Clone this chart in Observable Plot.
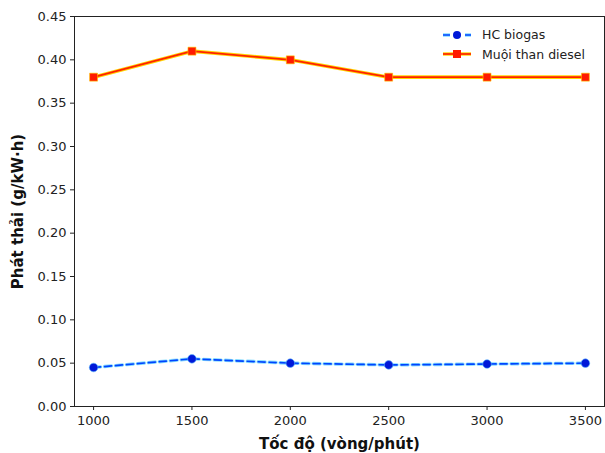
<!DOCTYPE html>
<html>
<head>
<meta charset="utf-8">
<script src="https://cdn.jsdelivr.net/npm/d3@7"></script>
<script src="https://cdn.jsdelivr.net/npm/@observablehq/plot@0.6"></script>
<style>
  html, body { margin: 0; padding: 0; background: #fff; }
  #wrap { position: relative; width: 605px; height: 453px; font-family: "DejaVu Sans", sans-serif; }
  #legend { position: absolute; left: 441px; top: 25px; font-size: 12.5px; color: #222; }
  #legend .row { display: flex; align-items: center; height: 19.5px; }
  #legend svg { margin-right: 9px; }
</style>
</head>
<body>
<div id="wrap">
  <div id="chart"></div>
  <div id="legend"></div>
</div>
<script>
// Engine speed (rpm)
const speeds = [1000, 1500, 2000, 2500, 3000, 3500];
// Emissions, g/kW·h
const hcBiogas = [0.045, 0.055, 0.050, 0.048, 0.049, 0.050];
const sootDiesel = [0.38, 0.41, 0.40, 0.38, 0.38, 0.38];
const seriesNames = ["HC biogas", "Muội than diesel"];
const yTicks = [0, 0.05, 0.10, 0.15, 0.20, 0.25, 0.30, 0.35, 0.40, 0.45];
const xTicks = [1000, 1500, 2000, 2500, 3000, 3500];

const hc = speeds.map((s, i) => ({speed: s, value: hcBiogas[i]}));
const soot = speeds.map((s, i) => ({speed: s, value: sootDiesel[i]}));

const chart = Plot.plot({
  width: 605,
  height: 453,
  marginLeft: 74,
  marginRight: 1,
  marginTop: 16,
  marginBottom: 47,
  style: {fontFamily: "DejaVu Sans, sans-serif", fontSize: "13px", color: "#222", background: "#fff"},
  x: {domain: [903, 3597], ticks: xTicks, tickFormat: d => String(d), tickSize: 4, tickPadding: 5,
      label: "Tốc độ (vòng/phút)", labelAnchor: "center", labelArrow: "none", labelOffset: 42},
  y: {domain: [0, 0.45], ticks: yTicks, tickFormat: d3.format(".2f"), tickSize: 4, tickPadding: 4,
      label: "Phát thải (g/kW·h)", labelAnchor: "center", labelArrow: "none", labelOffset: 62},
  marks: [
    Plot.frame({stroke: "#222", strokeWidth: 1}),
    // soft halos under the lines
    Plot.line(soot, {x: "speed", y: "value", stroke: "#ffd400", strokeWidth: 3.6}),
    Plot.line(hc, {x: "speed", y: "value", stroke: "#86dcff", strokeWidth: 3.4, strokeDasharray: "7,4"}),
    Plot.line(soot, {x: "speed", y: "value", stroke: "#ff2200", strokeWidth: 1.7}),
    Plot.line(hc, {x: "speed", y: "value", stroke: "#0044ff", strokeWidth: 1.7, strokeDasharray: "7,4"}),
    Plot.dot(soot, {x: "speed", y: "value", symbol: "square", r: 4.5, fill: "#ff1a00", stroke: "#ffcc00", strokeWidth: 0.6}),
    Plot.dot(hc, {x: "speed", y: "value", r: 4.3, fill: "#0018d8", stroke: "#5ab8ff", strokeWidth: 0.6})
  ]
});

// bold axis titles
chart.querySelectorAll("[aria-label='x-axis label'] text, [aria-label='y-axis label'] text").forEach(t => {
  t.setAttribute("font-weight", "bold");
  t.setAttribute("font-size", "15px");
  t.setAttribute("fill", "#111");
});
document.getElementById("chart").append(chart);

// legend
const legend = d3.select("#legend");
const styles = [
  {halo: "#86dcff", stroke: "#0044ff", dash: "7,4", marker: "circle", fill: "#0018d8"},
  {halo: "#ffd400", stroke: "#ff2200", dash: null, marker: "square", fill: "#ff1a00"}
];
seriesNames.forEach((name, i) => {
  const st = styles[i];
  const row = legend.append("div").attr("class", "row");
  const svg = row.append("svg").attr("width", 32).attr("height", 12);
  svg.append("line").attr("x1", 2).attr("x2", 30).attr("y1", 6).attr("y2", 6)
    .attr("stroke", st.halo).attr("stroke-width", 3.4).attr("stroke-dasharray", st.dash);
  svg.append("line").attr("x1", 2).attr("x2", 30).attr("y1", 6).attr("y2", 6)
    .attr("stroke", st.stroke).attr("stroke-width", 1.7).attr("stroke-dasharray", st.dash);
  if (st.marker === "circle") {
    svg.append("circle").attr("cx", 16).attr("cy", 6).attr("r", 4).attr("fill", st.fill);
  } else {
    svg.append("rect").attr("x", 12).attr("y", 2).attr("width", 8).attr("height", 8).attr("fill", st.fill);
  }
  row.append("span").text(name);
});
</script>
</body>
</html>
